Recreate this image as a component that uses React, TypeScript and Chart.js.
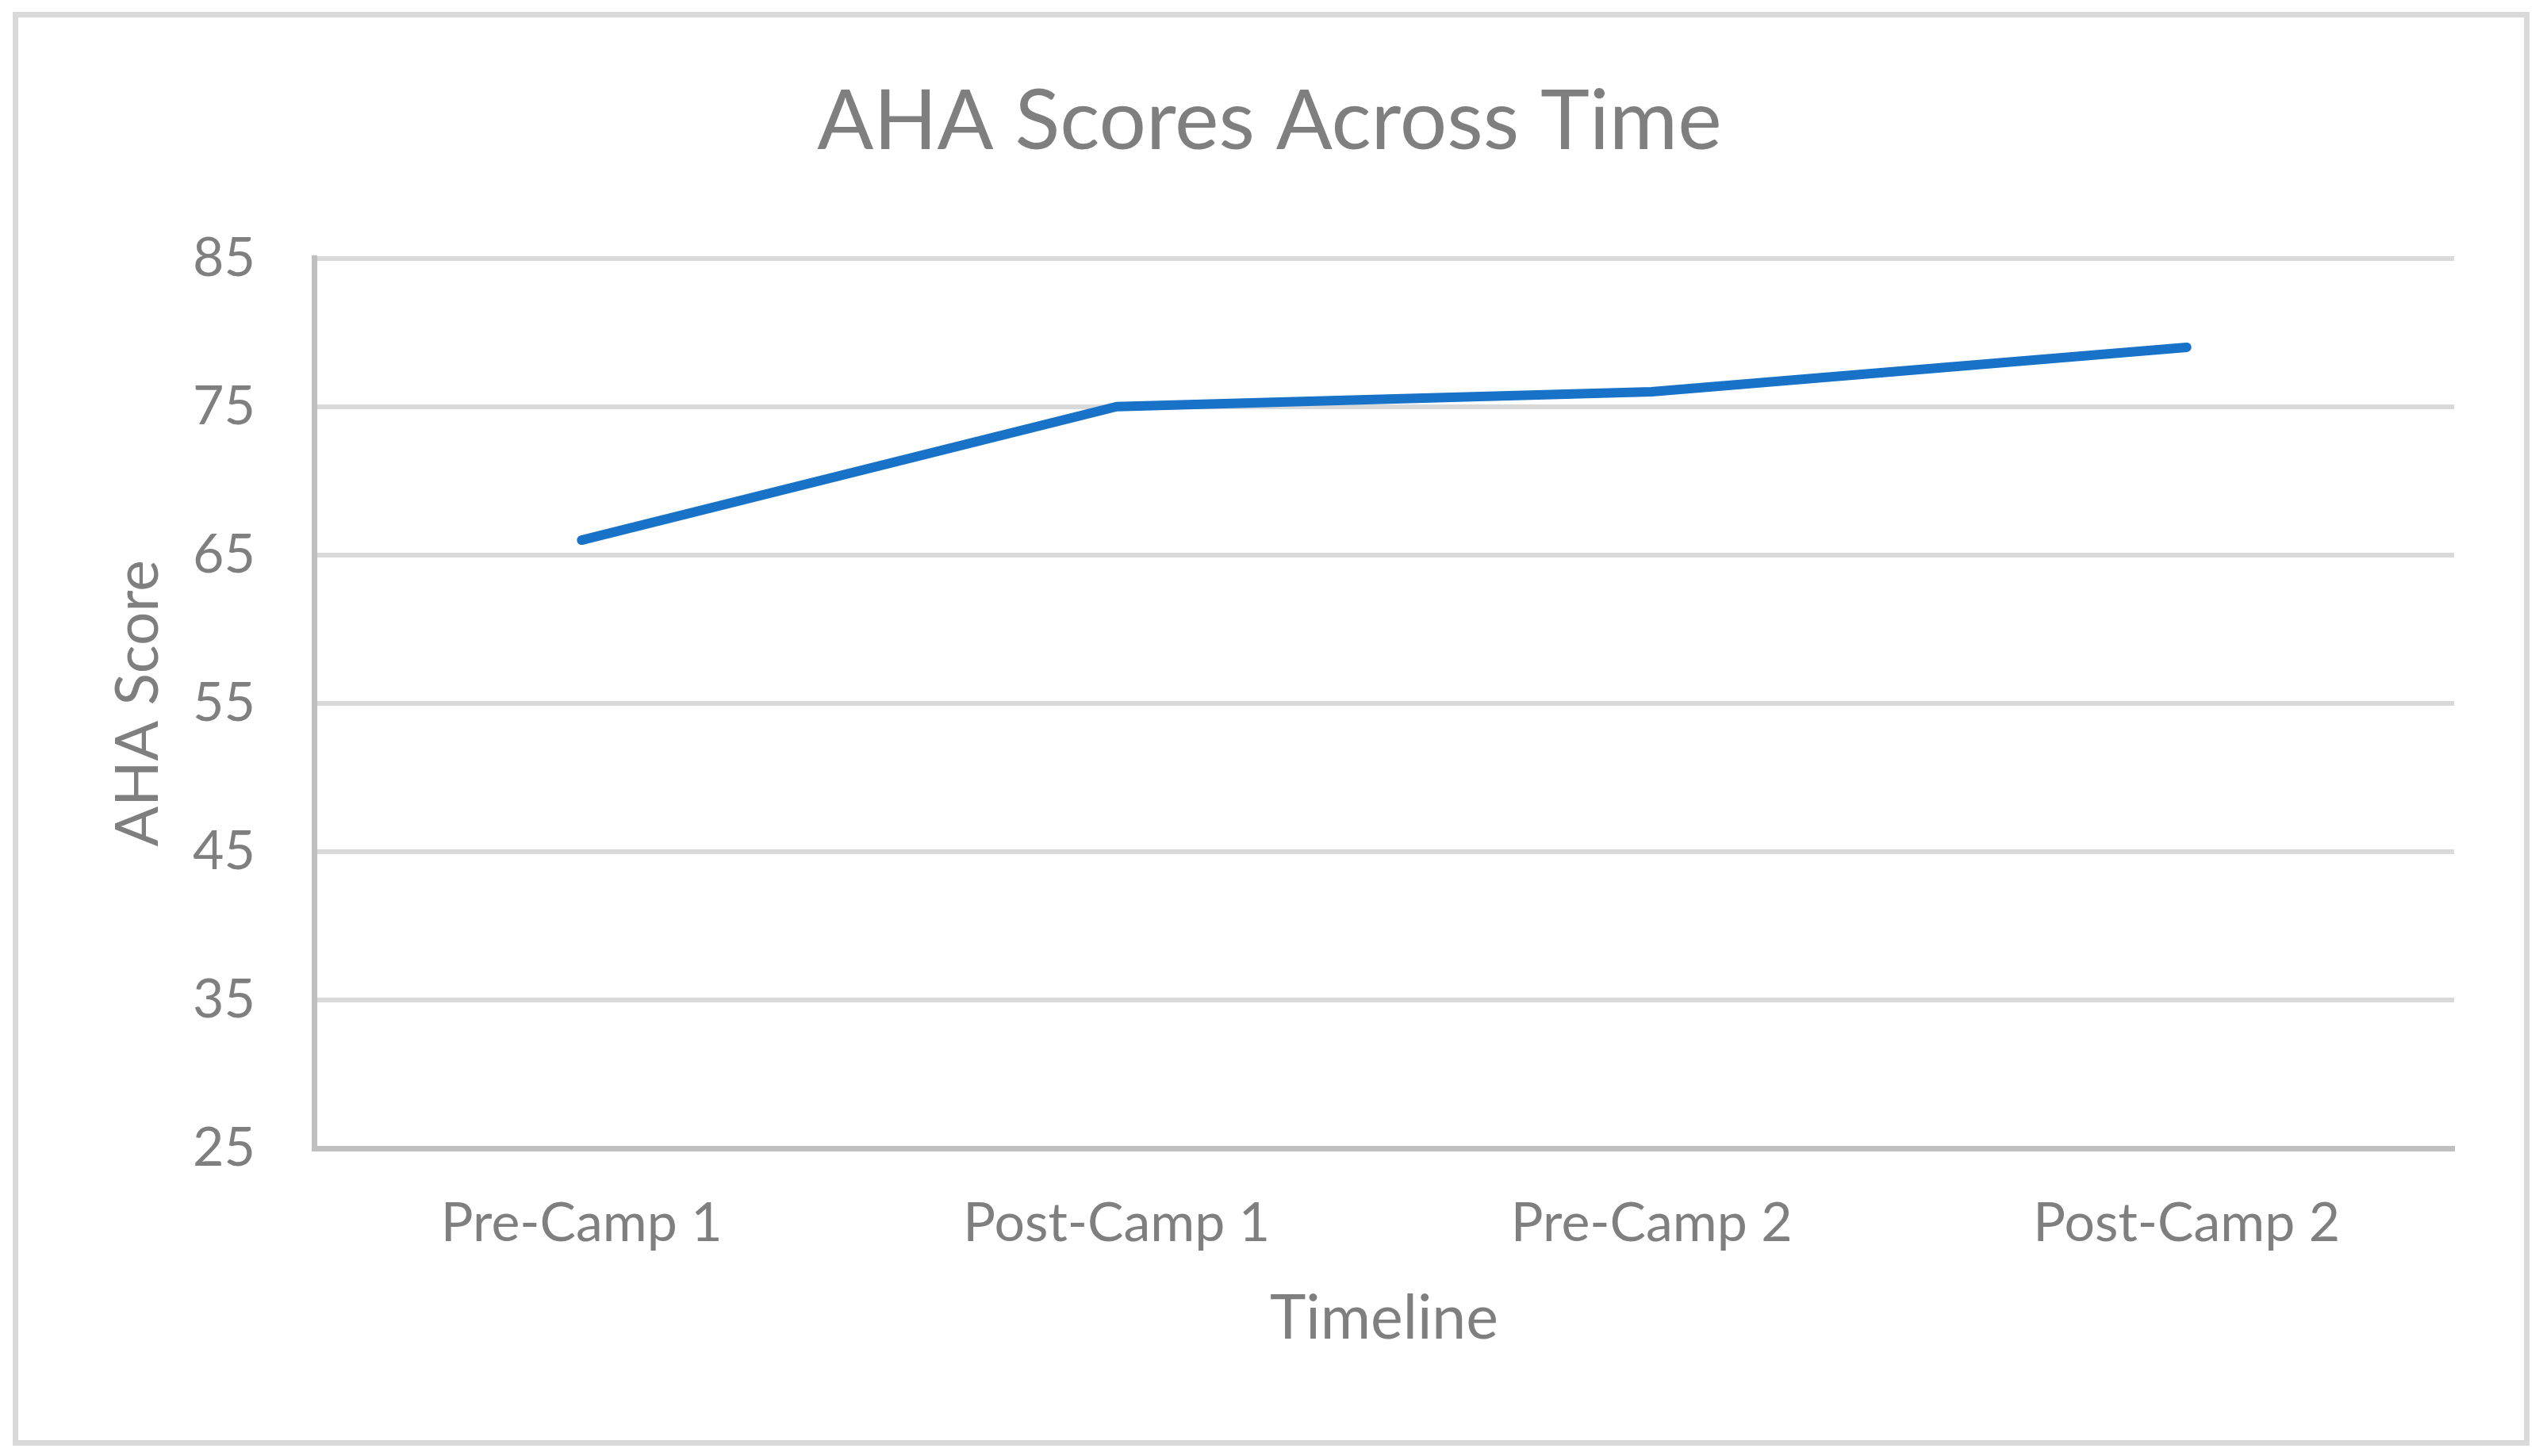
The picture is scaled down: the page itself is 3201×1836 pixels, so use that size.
import React, { useEffect, useRef } from "react";
import { Chart, registerables } from "chart.js";

Chart.register(...registerables);

const categories = ["Pre-Camp 1", "Post-Camp 1", "Pre-Camp 2", "Post-Camp 2"];
const ahaScores = [66, 75, 76, 79];
const yTicks = [25, 35, 45, 55, 65, 75, 85];
const chartTitle = "AHA Scores Across Time";
const xAxisTitle = "Timeline";
const yAxisTitle = "AHA Score";

const W = 3201;
const H = 1836;
const FONT = "Lato";
const TEXT = "#7f7f7f";

export default function App() {
  const ref = useRef<HTMLCanvasElement | null>(null);

  useEffect(() => {
    let chart: Chart | null = null;
    let cancelled = false;
    const make = () => {
      if (cancelled || !ref.current) return;
      chart = new Chart(ref.current, {
        type: "line",
        data: {
          labels: categories,
          datasets: [
            {
              label: yAxisTitle,
              data: ahaScores,
              borderColor: "#1772c8",
              backgroundColor: "#1772c8",
              borderWidth: 12,
              borderCapStyle: "round",
              borderJoinStyle: "round",
              tension: 0,
              pointRadius: 0,
              pointHoverRadius: 0,
              fill: false,
              yAxisID: "y",
            },
          ],
        },
        options: {
          responsive: false,
          animation: false,
          devicePixelRatio: 1,
          layout: { padding: { left: 0, right: 0, top: 0, bottom: 0 } },
          plugins: {
            legend: { display: false },
            tooltip: { enabled: false },
            title: {
              display: true,
              text: chartTitle,
              color: TEXT,
              font: { family: FONT, size: 105, weight: "normal", lineHeight: 1.2 },
              padding: { top: 91, bottom: 108.7 },
            },
          },
          scales: {
            x: {
              type: "category",
              offset: true,
              afterFit: (s: any) => {
                s.height = 388;
              },
              grid: { display: false, drawTicks: false },
              border: { display: true, color: "#bfbfbf", width: 7 },
              ticks: {
                color: TEXT,
                padding: 54,
                maxRotation: 0,
                autoSkip: false,
                font: { family: FONT, size: 68, lineHeight: 1.2 },
              },
              title: {
                display: true,
                text: xAxisTitle,
                color: TEXT,
                font: { family: FONT, size: 77, lineHeight: 1.2 },
                padding: { top: 0, bottom: 126.8 },
              },
            },
            y: {
              type: "linear",
              position: "left",
              min: 25,
              max: 85,
              afterFit: (s: any) => {
                s.width = 396;
              },
              afterBuildTicks: (s: any) => {
                s.ticks = yTicks.map((v) => ({ value: v }));
              },
              grid: { display: true, color: "#d9d9d9", lineWidth: 6, drawTicks: false },
              border: { display: true, color: "#bfbfbf", width: 7 },
              ticks: {
                color: TEXT,
                padding: 74,
                font: { family: FONT, size: 68, lineHeight: 1.2 },
              },
              title: {
                display: true,
                text: yAxisTitle,
                color: TEXT,
                font: { family: FONT, size: 75, lineHeight: 1.2 },
                padding: { top: 130, bottom: 0 },
              },
            },
            spacer: {
              type: "linear",
              position: "right",
              display: true,
              afterFit: (s: any) => {
                s.width = W - 3094;
              },
              grid: { display: false, drawTicks: false },
              border: { display: false },
              ticks: { display: false },
            },
          },
        },
      } as any);
    };
    const fontsReady = (document as any).fonts
      ? Promise.all([
          (document as any).fonts.load(`68px ${FONT}`),
          (document as any).fonts.load(`105px ${FONT}`),
        ]).catch(() => null)
      : Promise.resolve(null);
    fontsReady.then(make);
    return () => {
      cancelled = true;
      if (chart) chart.destroy();
    };
  }, []);

  return (
    <div style={{ position: "absolute", left: 0, top: 0, width: W, height: H, background: "#ffffff", overflow: "hidden" }}>
      <canvas ref={ref} width={W} height={H} style={{ position: "absolute", left: 0, top: 0, width: W, height: H, display: "block" }} />
      <div
        style={{
          position: "absolute",
          left: 16,
          top: 15,
          width: 3173,
          height: 1808,
          boxSizing: "border-box",
          border: "7px solid #d9d9d9",
          pointerEvents: "none",
        }}
      />
    </div>
  );
}
